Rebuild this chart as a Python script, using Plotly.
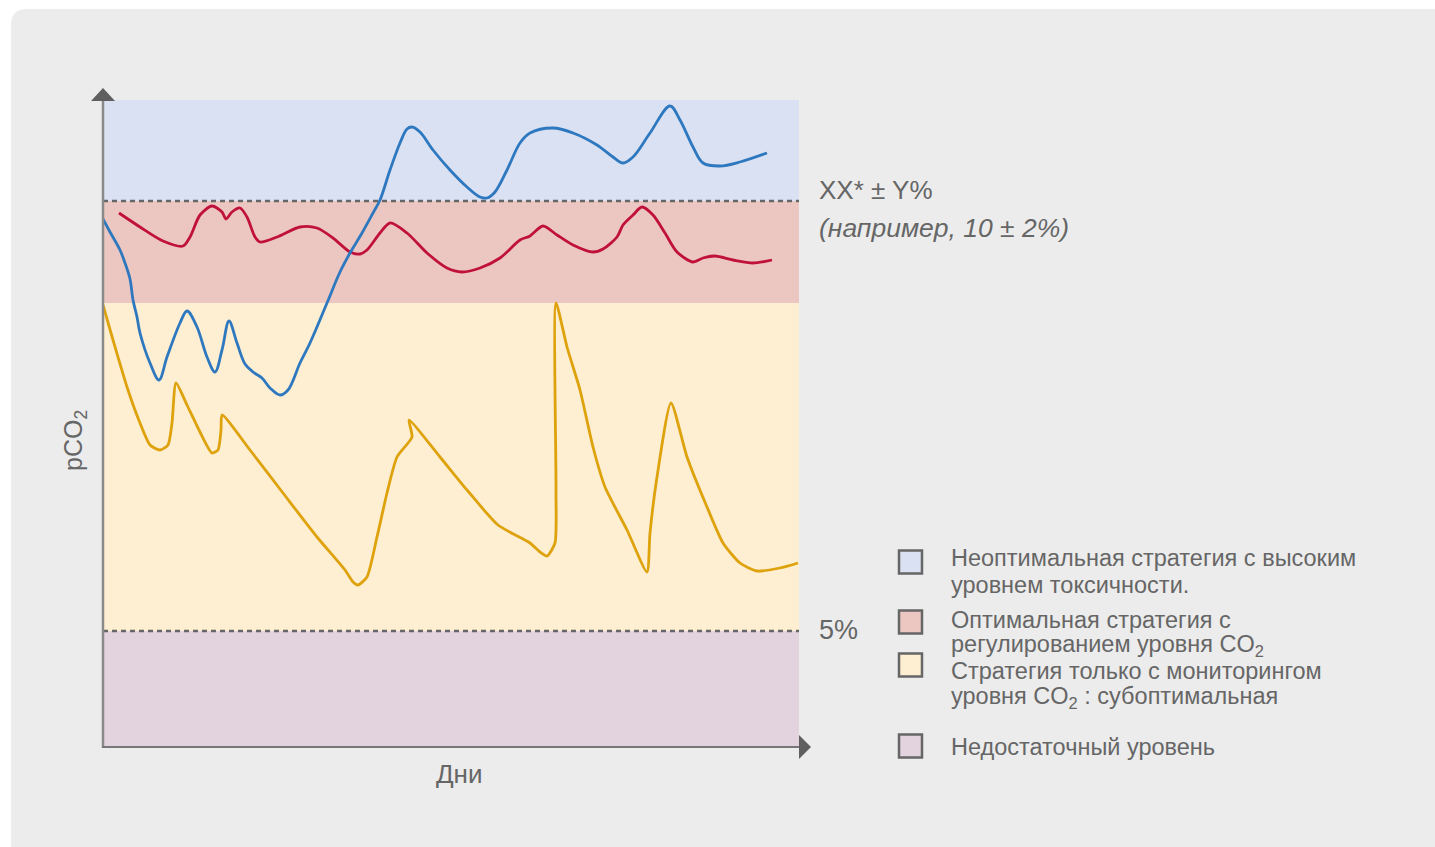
import plotly.graph_objects as go

# ---- data -------------------------------------------------------------
# x: days (arbitrary units), y: pCO2 (arbitrary units, 0 at the x-axis)
blue_days = [0, 7, 17, 22, 27, 30, 34, 37, 47, 56, 64, 77, 84, 94, 104, 112, 119, 126, 134,
             142, 150, 159, 167, 177, 185, 197, 207, 224, 237, 247, 259, 270, 277, 287, 297,
             304, 309, 317, 330, 347, 364, 377, 384, 392, 404, 417, 427, 450, 470, 494,
             510, 520, 530, 547, 567, 577, 590, 600, 617, 637, 664]
blue_pco2 = [528, 515, 497, 484, 468, 447, 430, 414, 384, 367, 390, 424, 436, 420, 390, 375,
             397, 426, 404, 383, 375, 369, 359, 352, 357, 384, 404, 444, 475, 494, 514, 534,
             547, 577, 604, 618, 620, 615, 597, 577, 560, 550, 549, 555, 577, 604, 614, 619,
             614, 602, 590, 584, 590, 614, 641, 627, 600, 584, 581, 585, 594]

red_days = [16, 37, 60, 80, 87, 97, 109, 119, 123, 129, 137, 144, 152, 157, 174, 197, 214,
            230, 247, 257, 264, 277, 287, 304, 324, 344, 359, 377, 397, 417, 427, 440,
            454, 470, 490, 500, 514, 520, 530, 539, 550, 562, 574, 590, 600, 612, 630,
            650, 669]
red_pco2 = [534, 520, 506, 501, 510, 532, 541, 535, 528, 535, 539, 530, 510, 505, 510, 520,
            519, 509, 495, 493, 497, 514, 524, 514, 494, 479, 475, 479, 489, 507, 511,
            521, 512, 502, 495, 498, 510, 522, 532, 540, 532, 514, 495, 485, 489, 491,
            487, 484, 487]

yellow_days = [0, 10, 24, 37, 47, 57, 65, 69, 73, 84, 97, 109, 115, 118, 119, 147, 180,
               214, 242, 250, 255, 264, 274, 284, 294, 309, 306, 337, 364, 395, 427, 437,
               444, 452, 453, 453, 464, 477, 490, 502, 524, 544, 547, 554, 568, 584, 604,
               620, 637, 654, 677, 695]
yellow_pco2 = [442, 407, 360, 324, 302, 297, 302, 324, 364, 342, 315, 294, 297, 317, 332,
               297, 254, 210, 177, 165, 162, 170, 210, 254, 290, 310, 327, 290, 257, 222,
               204, 195, 191, 204, 257, 444, 400, 357, 300, 260, 217, 175, 214, 270, 344,
               290, 240, 204, 184, 176, 179, 184]

# zone boundaries on the pCO2 axis (bottom -> top)
zone_edges = [0, 116, 444, 546, 647]
zone_names = [
    ["Недостаточный уровень"],
    ["Стратегия только с мониторингом", "уровня CO<sub>2</sub> : субоптимальная"],
    ["Оптимальная стратегия с", "регулированием уровня CO<sub>2</sub>"],
    ["Неоптимальная стратегия с высоким", "уровнем токсичности."],
]
zone_colors = ["#e3d3de", "#feeed2", "#ecc7c2", "#dae1f2"]
dashed_levels = [116, 546]
x_max = 696

# ---- layout geometry (pixels) ----------------------------------------
W, H = 1435, 847
L, R, T, B = 103, 799, 100, 747


def px(x):
    return (x - L) / (R - L)


def py(y):
    return (B - y) / (B - T)


TEXT = "#666666"
FONT = "Liberation Sans, Arial, sans-serif"

fig = go.Figure()

for days, vals, col, smooth in [(yellow_days, yellow_pco2, "#dea20c", 0.6),
                                (red_days, red_pco2, "#c0113a", 0.8),
                                (blue_days, blue_pco2, "#2e78bf", 1.0)]:
    fig.add_trace(go.Scatter(x=days, y=vals, mode="lines",
                             line=dict(color=col, width=2.8, shape="spline", smoothing=smooth),
                             hoverinfo="skip", showlegend=False))

shapes = []
# rounded grey panel
r = 16
shapes.append(dict(
    type="path", xref="paper", yref="paper", layer="below",
    path=(f"M {px(11)},{py(9 + r)} Q {px(11)},{py(9)} {px(11 + r)},{py(9)} "
          f"L {px(1445)},{py(9)} L {px(1445)},{py(860)} L {px(11)},{py(860)} Z"),
    fillcolor="#ececec", line=dict(width=0)))

# coloured zones
for i, col in enumerate(zone_colors):
    shapes.append(dict(type="rect", xref="x", yref="y", layer="below",
                       x0=0, x1=x_max, y0=zone_edges[i], y1=zone_edges[i + 1],
                       fillcolor=col, line=dict(width=0)))

# dashed threshold lines
for lv in dashed_levels:
    shapes.append(dict(type="line", xref="x", yref="y", layer="below",
                       x0=0, x1=x_max, y0=lv, y1=lv,
                       line=dict(color="#666666", width=2.6, dash="5px,4px")))

# axes with arrow heads
shapes.append(dict(type="line", xref="paper", yref="paper",
                   x0=px(103), x1=px(103), y0=py(748), y1=py(96),
                   line=dict(color="#8a8a8a", width=2.5)))
shapes.append(dict(type="line", xref="paper", yref="paper",
                   x0=px(102), x1=px(800), y0=py(747), y1=py(747),
                   line=dict(color="#777777", width=2)))
shapes.append(dict(type="path", xref="paper", yref="paper",
                   path=f"M {px(91)},{py(101)} L {px(103)},{py(88)} L {px(115)},{py(101)} Z",
                   fillcolor="#5f5f5f", line=dict(width=0)))
shapes.append(dict(type="path", xref="paper", yref="paper",
                   path=f"M {px(799)},{py(735)} L {px(811)},{py(747)} L {px(799)},{py(759)} Z",
                   fillcolor="#5f5f5f", line=dict(width=0)))

# legend squares (pixel centre) and the pixel rows of each item's text lines
legend_squares = [562, 622, 665, 746]
legend_lines = [[558, 585], [620, 645], [671, 697], [747]]
for sq_y, col in zip(legend_squares, zone_colors[::-1]):
    shapes.append(dict(type="rect", xref="paper", yref="paper",
                       x0=px(899), x1=px(922), y0=py(sq_y + 11.5), y1=py(sq_y - 11.5),
                       fillcolor=col, line=dict(color="#666666", width=2.5)))

annotations = []


def label(text, x, y, size, xanchor="left", **kw):
    annotations.append(dict(text=text, x=px(x), y=py(y), xref="paper", yref="paper",
                            xanchor=xanchor, yanchor="middle", showarrow=False,
                            font=dict(family=FONT, size=size, color=TEXT), **kw))


label("XX* ± Y%", 817, 190, 26)
label("<i>(например, 10 ± 2%)</i>", 817, 228, 26.5)
label("5%", 817, 630, 27)
label("Дни", 459, 774, 26, xanchor="center")
annotations.append(dict(text="pCO<sub>2</sub>", x=px(75), y=py(441), xref="paper", yref="paper",
                        xanchor="center", yanchor="middle", showarrow=False, textangle=-90,
                        font=dict(family=FONT, size=25, color=TEXT)))

for rows, lines in zip(legend_lines, zone_names[::-1]):
    for y, line in zip(rows, lines):
        label(line, 949, y, 23.5)

fig.update_layout(
    width=W, height=H,
    margin=dict(l=L, r=W - R, t=T, b=H - B, pad=0),
    paper_bgcolor="white", plot_bgcolor="rgba(0,0,0,0)",
    xaxis=dict(range=[0, x_max], visible=False, fixedrange=True),
    yaxis=dict(range=[0, zone_edges[-1]], visible=False, fixedrange=True),
    shapes=shapes, annotations=annotations,
    showlegend=False,
)

fig.write_html("out.html", config={"displayModeBar": False})
